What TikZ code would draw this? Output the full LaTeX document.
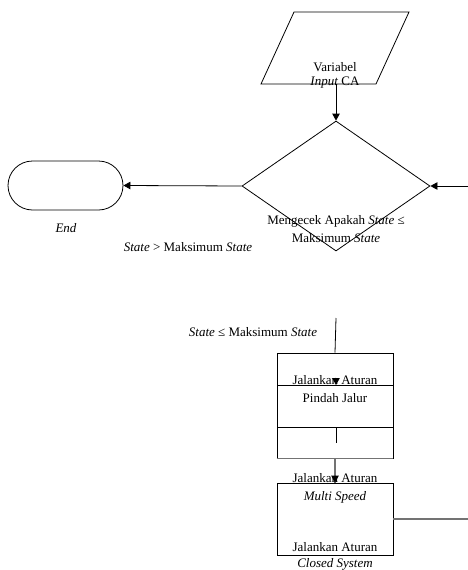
\documentclass[tikz,border=0pt]{standalone}
\usepackage{fontspec}
\setmainfont{Liberation Serif}
\usetikzlibrary{shapes.geometric,arrows.meta}
\begin{document}
\begin{tikzpicture}[x=1pt,y=-1pt,line width=0.8pt,
  txt/.style={font=\fontsize{13}{15}\selectfont,anchor=base,inner sep=0pt},
  arr/.style={-{Triangle[length=7pt,width=7.5pt]}},
  gline/.style={draw=black!55,line width=1.3pt},
  boxs/.style={draw,fill=white,minimum width=116pt,inner sep=0pt}]
\useasboundingbox (0,0) rectangle (468,570);
% input parallelogram
\coordinate (p1) at (261,84);
\coordinate (p2) at (294,12);
\coordinate (p3) at (409,12);
\coordinate (p4) at (376,84);
\draw (p1) -- (p2) -- (p3) -- (p4) -- cycle;
\coordinate (pb) at (336,84);
% decision
\node[diamond,draw,minimum width=188pt,minimum height=130pt,inner sep=0pt] (dec) at (336,186) {};
% terminal
\node[draw,rounded corners=24.5pt,minimum width=115pt,minimum height=49pt,inner sep=0pt] (term) at (65.5,185.5) {};
% boxes
\node[boxs,minimum height=105pt] (b1) at (335,405.5) {};
\draw (277,385) -- (393,385);
\draw (277,427) -- (393,427);
\draw[gline] (b1.south west) -- (b1.south east);
\node[boxs,minimum height=72pt] (b2) at (335,519) {};
% connectors
\coordinate (rin) at (468,186);
\coordinate (top1) at (336,318);
\coordinate (tip1) at (336,385);
\coordinate (stub1) at (336,427);
\coordinate (stub2) at (336,443);
\coordinate (rout) at (468,519);
\draw[arr] (pb) -- (dec.north);
\draw[arr] (rin) -- (dec.east);
\draw[arr] (dec.west) -- (term.east);
\draw (top1) -- (b1.north);
\draw[arr] ([yshift=7pt]tip1) -- (tip1);
\draw (stub1) -- (stub2);
\draw[gline] (b1.south) -- (b2.north);
\draw[arr] ([yshift=7pt]b2.north) -- (b2.north);
\draw[gline] (b2.east) -- (rout);
% texts
\node[txt] (t1) at (335,71) {Variabel};
\node[txt] (t2) at (335,85) {\textit{Input} CA};
\node[txt] (t3) at (336,224) {Mengecek Apakah \textit{State} ≤};
\node[txt] (t4) at (336,242) {Maksimum \textit{State}};
\node[txt] (t5) at (66,232) {\textit{End}};
\node[txt] (t6) at (188,251) {\textit{State} > Maksimum \textit{State}};
\node[txt] (t7) at (253,336) {\textit{State} ≤ Maksimum \textit{State}};
\node[txt] (t8) at (335,384) {Jalankan Aturan};
\node[txt] (t9) at (335,402) {Pindah Jalur};
\node[txt] (t10) at (335,482) {Jalankan Aturan};
\node[txt] (t11) at (335,500) {\textit{Multi Speed}};
\node[txt] (t12) at (335,551) {Jalankan Aturan};
\node[txt] (t13) at (335,567) {\textit{Closed System}};
\end{tikzpicture}
\end{document}
